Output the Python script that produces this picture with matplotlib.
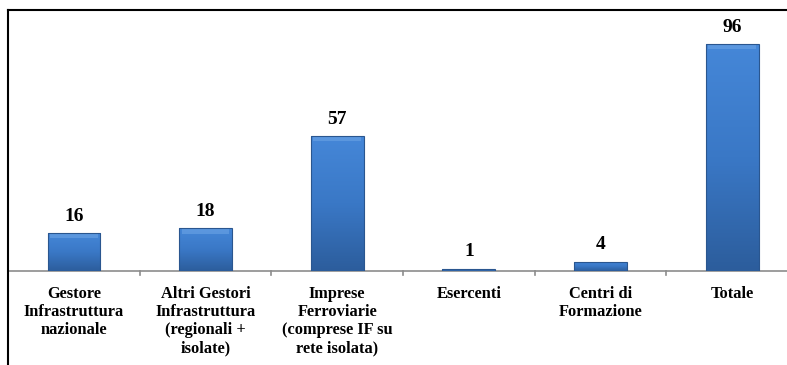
import numpy as np
import matplotlib.pyplot as plt
from matplotlib.lines import Line2D

categories = [
    "Gestore\nInfrastruttura\nnazionale",
    "Altri Gestori\nInfrastruttura\n(regionali +\nisolate)",
    "Imprese\nFerroviarie\n(comprese IF su\nrete isolata)",
    "Esercenti",
    "Centri di\nFormazione",
    "Totale",
]
values = [16, 18, 57, 1, 4, 96]

W, H = 787, 365
fig = plt.figure(figsize=(W / 100, H / 100), dpi=100)
fig.patch.set_facecolor("white")

# plot area: left edge at the frame, right edge runs slightly past the image
x0, x1 = 8, 798
y_top, y_base = 10, 271
ax = fig.add_axes([x0 / W, 1 - y_base / H, (x1 - x0) / W, (y_base - y_top) / H])
ax.set_xlim(-0.5, len(values) - 0.5)
ax.set_ylim(0, 96 * (y_base - y_top) / (y_base - 44))
ax.axis("off")

# baseline and separator ticks
ax.axhline(0, color="#8c8c8c", lw=1.2, clip_on=False)
for b in np.arange(0.5, len(values) - 0.5, 1):
    ax.plot([b, b], [0, -1.5], color="#8c8c8c", lw=1.2, clip_on=False)

# bars with a vertical blue gradient and darker edge
grad = np.linspace(0, 1, 256).reshape(-1, 1)
cmap = plt.matplotlib.colors.LinearSegmentedColormap.from_list(
    "bar", ["#2c5d9c", "#3a78c6", "#4587d8"])
bw = 0.4
bars = ax.bar(range(len(values)), values, width=bw, color="none",
              edgecolor="#2a568f", lw=0.8, zorder=3)
for i, (bar, v) in enumerate(zip(bars, values)):
    im = ax.imshow(grad, cmap=cmap, aspect="auto", origin="lower",
                   extent=[i - bw / 2, i + bw / 2, 0, v], zorder=2)
    im.set_clip_path(bar)
    # lighter bevel strip along the top
    top = min(v * 0.12, 2.2)
    ax.fill_between([i - bw / 2 + 0.02, i + bw / 2 - 0.02], v - top, v,
                    color="#6fa6e6", alpha=0.55, lw=0, zorder=2.5)
    ax.text(i, v + 3.5, str(v), ha="center", va="bottom",
            fontsize=14, fontweight="bold", family="Liberation Serif")

for i, lab in enumerate(categories):
    ax.text(i, -6.2, lab, ha="center", va="top", fontsize=11.8,
            fontweight="bold", family="Liberation Serif", linespacing=1.18)

# outer chart frame (top and left edges)
fig.add_artist(Line2D([x0 / W, 1], [1 - y_top / H] * 2, color="black", lw=1.5))
fig.add_artist(Line2D([x0 / W] * 2, [0, 1 - y_top / H], color="black", lw=1.5))

fig.savefig("out.png", dpi=100, facecolor="white")
